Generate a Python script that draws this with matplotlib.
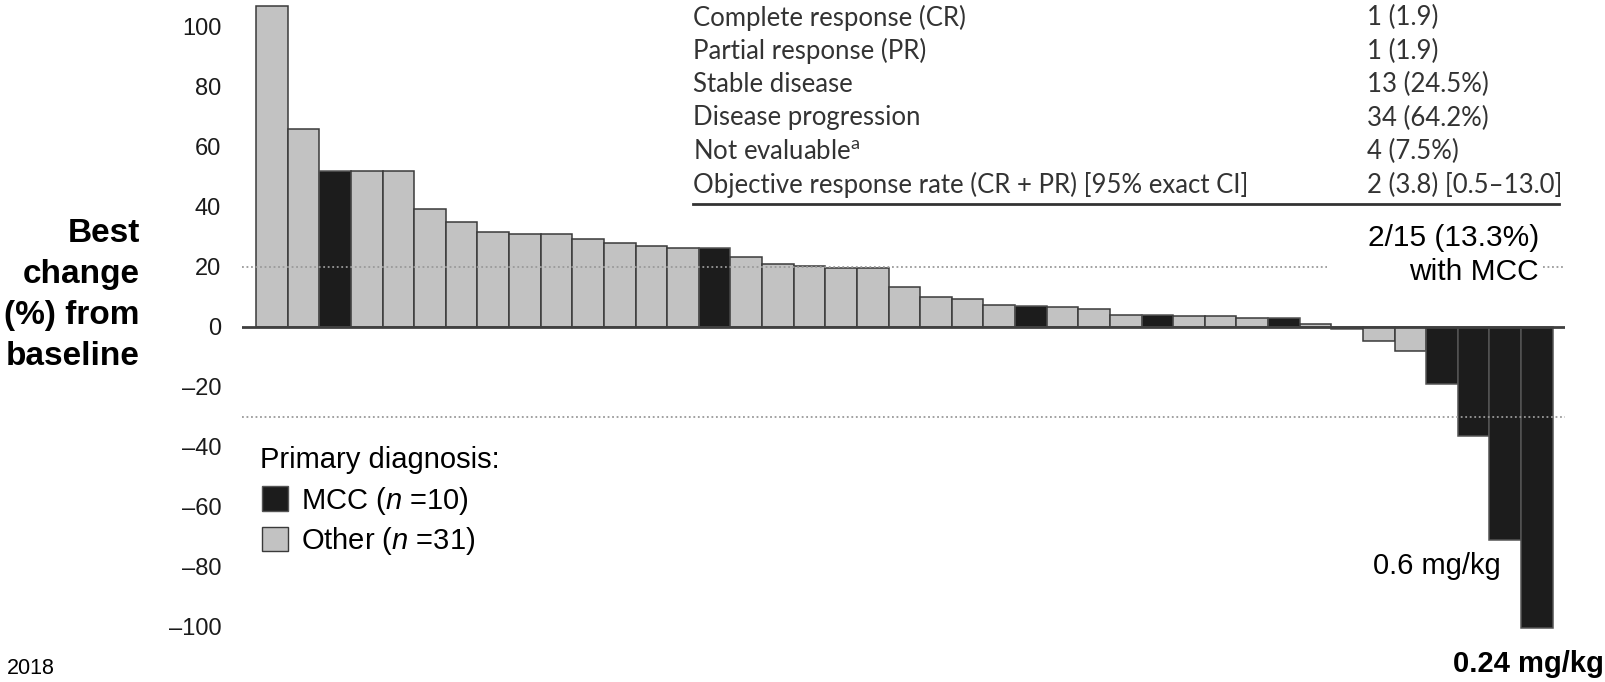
import matplotlib
matplotlib.use("Agg")
import matplotlib.pyplot as plt
from matplotlib.patches import Patch

W, H = 1606, 682

# best % change from baseline, one bar per patient (sorted, waterfall)
change = [107.0, 65.8, 51.9, 51.9, 51.9, 39.3, 34.9, 31.7, 30.9, 30.9,
          29.3, 27.9, 26.9, 26.4, 26.2, 23.2, 20.9, 20.3, 19.6, 19.6,
          13.2, 10.0, 9.1, 7.1, 6.8, 6.6, 5.9, 4.0, 4.0, 3.6,
          3.6, 3.0, 3.0, 0.8, -0.8, -4.7, -8.0, -19.2, -36.4, -71.2,
          -100.5]
diagnosis = ["Other"] * len(change)
for i in [2, 14, 24, 28, 32, 34, 37, 38, 39, 40]:
    diagnosis[i] = "MCC"

outcomes = ["Complete response (CR)", "Partial response (PR)", "Stable disease",
            "Disease progression", "Not evaluable$^{\\mathrm{a}}$",
            "Objective response rate (CR + PR) [95% exact CI]"]
counts = ["1 (1.9)", "1 (1.9)", "13 (24.5%)", "34 (64.2%)", "4 (7.5%)",
          "2 (3.8) [0.5\u201313.0]"]

yticks = [100, 80, 60, 40, 20, 0, -20, -40, -60, -80, -100]

plt.rcParams['font.family'] = ['Liberation Sans', 'DejaVu Sans']
plt.rcParams['mathtext.fontset'] = 'custom'
plt.rcParams['mathtext.it'] = 'Liberation Sans:italic'
plt.rcParams['mathtext.rm'] = 'Lato'

colors = {"MCC": "#1c1c1c", "Other": "#c2c2c2"}
edges = {"MCC": "#555555", "Other": "#3a3a3a"}


def fx(x):
    return x / W


def fy(y):
    return 1 - y / H


fig = plt.figure(figsize=(W / 100, H / 100), dpi=100)
ax = fig.add_axes([fx(242), fy(650.7), fx(1565) - fx(242), fy(2.7) - fy(650.7)])

x = list(range(len(change)))
ax.bar(x, change, width=1.0,
       color=[colors[d] for d in diagnosis],
       edgecolor=[edges[d] for d in diagnosis], linewidth=1.1, zorder=3)

ax.set_xlim(-0.943, 40.89)
ax.set_ylim(-108, 108)

# reference lines (20% and -30%), broken where the MCC note sits
dots = (0, (1, 1.5))
ax.hlines(20, -0.943, 33.36, colors="#9a9a9a", linestyles=dots, lw=1.3, zorder=4)
ax.hlines(20, 40.19, 40.89, colors="#9a9a9a", linestyles=dots, lw=1.3, zorder=4)
ax.axhline(-30, color="#9a9a9a", linestyle=dots, lw=1.3, zorder=4)
ax.axhline(0, color="#404040", lw=2.0, zorder=5)

for s in ax.spines.values():
    s.set_visible(False)
ax.set_xticks([])
ax.set_yticks(yticks)
ax.set_yticklabels([str(t).replace("-", "\u2013") for t in yticks], fontsize=17,
                   color="#1a1a1a")
ax.tick_params(axis="y", length=0, pad=15)

# y label
fig.text(fx(140), fy(295), "Best\nchange\n(%) from\nbaseline", ha="right", va="center",
         multialignment="right", fontsize=24, fontweight="bold", linespacing=1.42)

# legend
fig.text(fx(260), fy(468), "Primary diagnosis:", ha="left", va="baseline", fontsize=21)
handles = [Patch(facecolor=colors["MCC"], edgecolor="#555555"),
           Patch(facecolor=colors["Other"], edgecolor="#3a3a3a")]
labels = ["MCC ($n$ =10)", "Other ($n$ =31)"]
ax.legend(handles, labels, frameon=False, fontsize=21,
          loc="center left", bbox_to_anchor=(fx(262), fy(521)),
          bbox_transform=fig.transFigure, borderpad=0, borderaxespad=0,
          handlelength=0.9, handleheight=0.9, handletextpad=0.45,
          labelspacing=0.3)

# response table
for i, (o, c) in enumerate(zip(outcomes, counts)):
    y = 17.5 + i * 33.5
    fig.text(fx(693), fy(y), o, ha="left", va="center", fontsize=18.5,
             family="Lato", color="#333333")
    fig.text(fx(1367), fy(y), c, ha="left", va="center", fontsize=18.5,
             family="Lato", color="#333333")
fig.add_artist(plt.Line2D([fx(693), fx(1559)], [fy(204), fy(204)], color="#333333",
                          lw=2.0))

# annotations
fig.text(fx(1539), fy(238), "2/15 (13.3%)", ha="right", va="center", fontsize=21.5)
fig.text(fx(1539), fy(272), "with MCC", ha="right", va="center", fontsize=21.5)
fig.text(fx(1373), fy(566), "0.6 mg/kg", ha="left", va="center", fontsize=21)
fig.text(fx(1604), fy(664), "0.24 mg/kg", ha="right", va="center", fontsize=21,
         fontweight="bold")
fig.text(fx(7), fy(668), "2018", ha="left", va="center", fontsize=15.5)

fig.savefig("out.png", dpi=100)
